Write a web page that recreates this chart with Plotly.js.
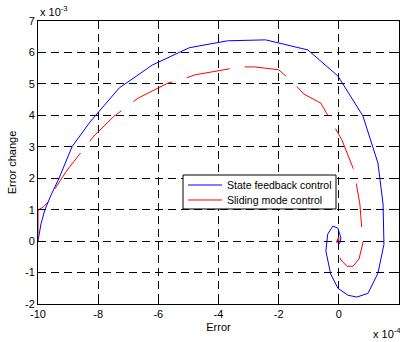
<!DOCTYPE html>
<html>
<head>
<meta charset="utf-8">
<script src="https://cdn.plot.ly/plotly-3.0.1.min.js"></script>
<style>html,body{margin:0;padding:0;background:#fff;}#chart{width:400px;height:342px;}</style>
</head>
<body>
<div id="chart"></div>
<script>
// Error in units of 1e-4, error change in units of 1e-3
const stateErr = [-10, -9.9, -9.77, -9.55, -9.3, -8.87, -8.27, -7.3, -6.2, -4.97, -3.7, -2.43, -1.03, -0.03, 0.8, 1.3, 1.47, 1.5, 1.3, 0.97, 0.6, 0.3, -0.03, -0.27, -0.43, -0.37, -0.2, -0.03, 0.07, 0.03, -0.05, -0.02, 0];
const stateChg = [0, 0.55, 1.0, 1.5, 2.0, 3.0, 3.79, 4.87, 5.6, 6.15, 6.37, 6.4, 6.08, 5.25, 3.98, 2.48, 1.18, -0.1, -1.02, -1.66, -1.78, -1.72, -1.5, -1.05, -0.32, 0.22, 0.48, 0.41, 0.1, -0.08, -0.02, 0.05, 0];
const slidErr = [-10, -10, -9.83, -9.67, -9.4, -9.03, -8.53, -8.17, -7.5, -7.07, -6.67, -5.67, -5.27, -4.77, -3.27, -2.8, -2.0, -1.5, -1.17, -0.6, -0.17, 0.1, 0.5, 0.7, 0.8, 0.73, 0.67, 0.47, 0.27, 0.07, -0.03, -0.07, 0, 0];
const slidChg = [0, 0.99, 1.08, 1.24, 1.72, 2.26, 2.87, 3.31, 3.95, 4.27, 4.55, 5.03, 5.13, 5.29, 5.54, 5.54, 5.45, 5.03, 4.68, 4.39, 3.66, 3.22, 2.26, 1.18, -0.06, -0.35, -0.57, -0.8, -0.8, -0.6, -0.32, 0, 0.13, 0];
const xTicks = [-10, -8, -6, -4, -2, 0, 2];
const yTicks = [-2, -1, 0, 1, 2, 3, 4, 5, 6, 7];
const seriesNames = ['State feedback control', 'Sliding mode control'];
const seriesColors = ['#0000ff', '#ff0000'];

const font = {family: 'Liberation Sans, Arial, sans-serif', size: 11, color: '#000'};
const legFont = {family: 'Liberation Sans, Arial, sans-serif', size: 10.5, color: '#000'};
const traces = [
  {x: stateErr, y: stateChg, mode: 'lines', name: seriesNames[0], line: {color: seriesColors[0], width: 1}},
  {x: slidErr, y: slidChg, mode: 'lines', name: seriesNames[1], line: {color: seriesColors[1], width: 1, dash: '44px,15px'}}
];
const axisCommon = {
  showline: true, linecolor: '#000', linewidth: 1, mirror: 'ticks',
  ticks: 'inside', ticklen: 4, tickcolor: '#000', tickwidth: 1,
  showgrid: true, gridcolor: '#000', gridwidth: 1, griddash: '8px,5px',
  zeroline: false, tickfont: font
};
// legend box drawn in paper coordinates
const legBox = {x0: 0.4017, x1: 0.8255, y0: 0.3357, y1: 0.4558};
const legRows = [0.4205, 0.3675];
const legLine = [0.4155, 0.5097];
const legText = 0.5208;
const shapes = [
  {type: 'rect', xref: 'paper', yref: 'paper', x0: legBox.x0, x1: legBox.x1, y0: legBox.y0, y1: legBox.y1,
   fillcolor: '#fff', line: {color: '#000', width: 1}, layer: 'above'}
];
const annotations = [
  {xref: 'paper', yref: 'paper', x: 0, y: 1, xanchor: 'left', yanchor: 'bottom', yshift: 1, text: 'x 10<sup>-3</sup>', showarrow: false, font: font},
  {xref: 'paper', yref: 'paper', x: 1.01, y: 0, xanchor: 'right', yanchor: 'top', yshift: -20, text: 'x 10<sup>-4</sup>', showarrow: false, font: font}
];
seriesNames.forEach((n, i) => {
  shapes.push({type: 'line', xref: 'paper', yref: 'paper', x0: legLine[0], x1: legLine[1], y0: legRows[i], y1: legRows[i],
    line: {color: seriesColors[i], width: 1}, layer: 'above'});
  annotations.push({xref: 'paper', yref: 'paper', x: legText, y: legRows[i], xanchor: 'left', yanchor: 'middle',
    text: n, showarrow: false, font: legFont, borderpad: 0});
});
const layout = {
  width: 400, height: 342,
  margin: {l: 38, r: 1, t: 21, b: 38},
  paper_bgcolor: '#fff', plot_bgcolor: '#fff',
  font: font,
  showlegend: false,
  xaxis: Object.assign({}, axisCommon, {range: [-10, 2], tickvals: xTicks, ticktext: xTicks.map(String),
    title: {text: 'Error', font: font, standoff: 4}}),
  yaxis: Object.assign({}, axisCommon, {range: [-2, 7], tickvals: yTicks, ticktext: yTicks.map(String),
    title: {text: 'Error change', font: font, standoff: 6}}),
  shapes: shapes,
  annotations: annotations
};
Plotly.newPlot('chart', traces, layout, {staticPlot: true, displayModeBar: false});
</script>
</body>
</html>
